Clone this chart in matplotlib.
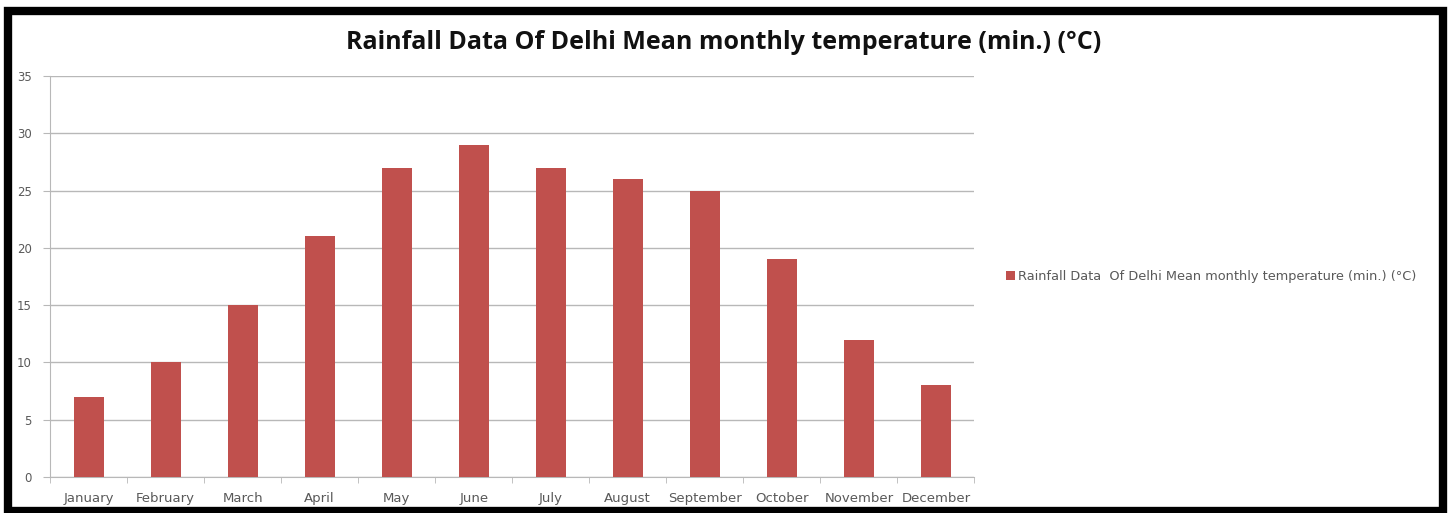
import numpy as np
import matplotlib
matplotlib.use('Agg')
import matplotlib.pyplot as plt
from matplotlib.patches import Rectangle

# data
months = ['January', 'February', 'March', 'April', 'May', 'June',
          'July', 'August', 'September', 'October', 'November', 'December']
temp_min = [7, 10, 15, 21, 27, 29, 27, 26, 25, 19, 12, 8]
series_name = 'Rainfall Data  Of Delhi Mean monthly temperature (min.) (\u00b0C)'
title = 'Rainfall Data Of Delhi Mean monthly temperature (min.) (\u00b0C)'

bar_col = '#c0504d'
grid_col = '#b8b8b8'
text_col = '#595959'

plt.rcParams['font.family'] = ['DejaVu Sans']

fig = plt.figure(figsize=(14.5, 5.13), dpi=100)
ax = fig.add_axes([0.0345, 0.0702, 0.6375, 0.7816])

x = np.arange(len(months))
ax.bar(x, temp_min, width=0.39, color=bar_col, label=series_name, zorder=3)

ax.set_xlim(-0.5, len(months) - 0.5)
ax.set_ylim(0, 35)
ax.set_yticks(np.arange(0, 36, 5))
ax.set_xticks(x)
ax.set_xticklabels(months)
ax.set_xticks(np.arange(-0.5, len(months), 1), minor=True)
ax.tick_params(axis='x', which='major', length=0, pad=11, labelsize=9.5, labelcolor=text_col)
ax.tick_params(axis='x', which='minor', length=4, color=grid_col, direction='out')
ax.tick_params(axis='y', length=5, color=grid_col, pad=8, labelsize=8.5, labelcolor=text_col)
ax.yaxis.grid(True, color=grid_col, linewidth=1, zorder=0)
ax.set_axisbelow(True)
for s in ['top', 'right']:
    ax.spines[s].set_visible(False)
for s in ['left', 'bottom']:
    ax.spines[s].set_color(grid_col)

fig.text(0.4993, 0.918, title, ha='center', va='center', fontsize=18,
         fontweight='bold', color='#111111', family='Open Sans')

ax.legend(loc='center left', bbox_to_anchor=(1.022, 0.5), frameon=False,
          fontsize=9.3, handlelength=0.7, handleheight=0.7, handletextpad=0.2,
          labelcolor=text_col)

# thick black frame round the chart
fig.patches.append(Rectangle((8 / 1450, 2 / 513), 1435 / 1450, 500 / 513,
                             transform=fig.transFigure, fill=False,
                             edgecolor='black', linewidth=6))

fig.savefig('out.png', dpi=100, facecolor='white')
